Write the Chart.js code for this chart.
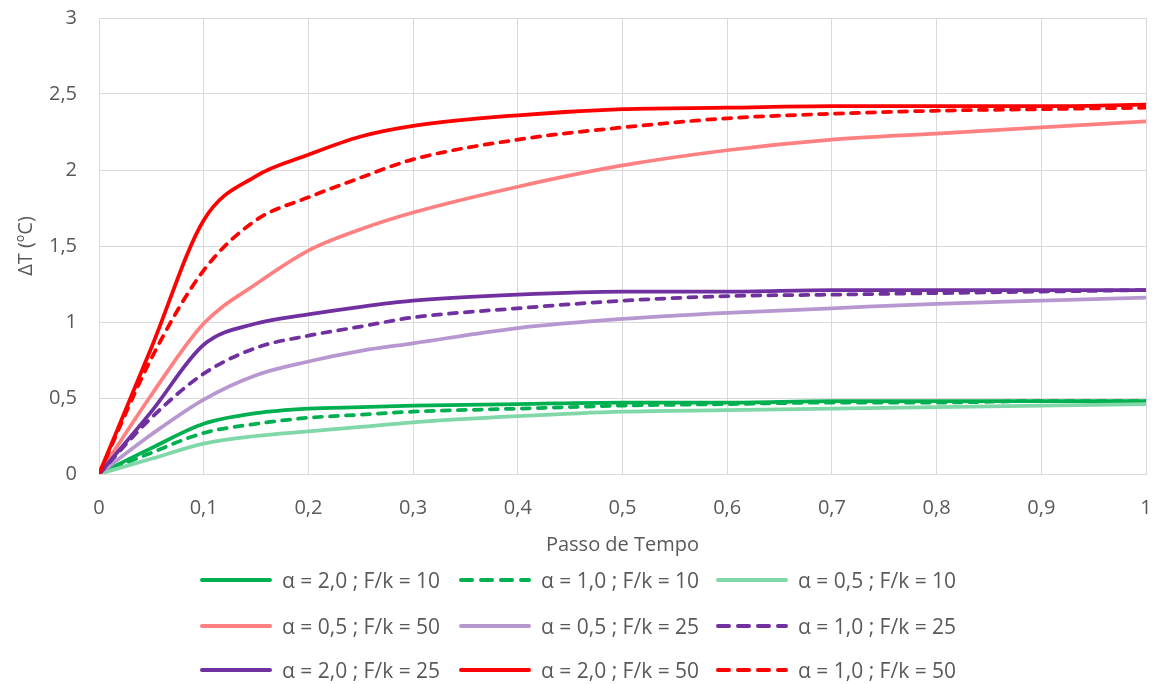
<!DOCTYPE html>
<html>
<head>
<meta charset="utf-8">
<script src="https://cdn.jsdelivr.net/npm/chart.js@4.4.1/dist/chart.umd.min.js"></script>
<style>
  body { margin: 0; background: #fff; }
  #wrap { position: relative; width: 1160px; height: 684px; }
  #legend { position: absolute; left: 0; top: 0; width: 1160px; height: 684px; pointer-events: none; }
  .item { position: absolute; display: flex; align-items: center; height: 28px;
          font: 21px "Open Sans", sans-serif; color: #595959; white-space: nowrap; }
  .item svg { margin-right: 10px; }
</style>
</head>
<body>
<div id="wrap">
  <canvas id="myChart" width="1160" height="684"></canvas>
  <div id="legend"></div>
</div>
<script>
// passo de tempo
const steps = [0, 0.05, 0.1, 0.15, 0.2, 0.25, 0.3, 0.4, 0.5, 0.6, 0.7, 0.8, 0.9, 1.0];

// ΔT for each case
const a20fk10 = [0, 0.17, 0.33, 0.40, 0.43, 0.44, 0.45, 0.46, 0.47, 0.47, 0.48, 0.48, 0.48, 0.48];
const a10fk10 = [0, 0.14, 0.27, 0.33, 0.37, 0.39, 0.41, 0.43, 0.45, 0.46, 0.47, 0.47, 0.48, 0.48];
const a05fk10 = [0, 0.10, 0.20, 0.25, 0.28, 0.31, 0.34, 0.38, 0.41, 0.42, 0.43, 0.44, 0.45, 0.46];
const a05fk50 = [0, 0.52, 0.99, 1.25, 1.47, 1.61, 1.72, 1.89, 2.03, 2.13, 2.20, 2.24, 2.28, 2.32];
const a05fk25 = [0, 0.26, 0.49, 0.65, 0.74, 0.81, 0.86, 0.96, 1.02, 1.06, 1.09, 1.12, 1.14, 1.16];
const a10fk25 = [0, 0.37, 0.66, 0.83, 0.91, 0.97, 1.03, 1.09, 1.14, 1.17, 1.18, 1.19, 1.20, 1.21];
const a20fk25 = [0, 0.41, 0.85, 0.99, 1.05, 1.10, 1.14, 1.18, 1.20, 1.20, 1.21, 1.21, 1.21, 1.21];
const a20fk50 = [0, 0.83, 1.67, 1.96, 2.10, 2.22, 2.29, 2.36, 2.40, 2.41, 2.42, 2.42, 2.42, 2.43];
const a10fk50 = [0, 0.76, 1.34, 1.67, 1.82, 1.95, 2.07, 2.20, 2.28, 2.34, 2.37, 2.39, 2.40, 2.41];

const seriesNames = [
    "α = 2,0 ; F/k = 10", "α = 1,0 ; F/k = 10", "α = 0,5 ; F/k = 10",
    "α = 0,5 ; F/k = 50", "α = 0,5 ; F/k = 25", "α = 1,0 ; F/k = 25",
    "α = 2,0 ; F/k = 25", "α = 2,0 ; F/k = 50", "α = 1,0 ; F/k = 50"
];
const seriesData = [a20fk10, a10fk10, a05fk10, a05fk50, a05fk25, a10fk25, a20fk25, a20fk50, a10fk50];
const seriesColors = ["#00B050", "#00B050", "#80D7A7", "#FF8080", "#B797CF", "#7030A0", "#7030A0", "#FF0000", "#FF0000"];
const seriesDashed = [false, true, false, false, false, true, false, false, true];

const yTicks = [0, 0.5, 1, 1.5, 2, 2.5, 3];

function comma(v) {
    return String(Math.round(v * 10) / 10).replace(".", ",");
}

// drop the automatic label overhang so the plot area sits where the padding says
function noPad(scale) {
    scale.paddingTop = 0;
    scale.paddingBottom = 0;
    scale.paddingLeft = 0;
    scale.paddingRight = 0;
}

const datasets = seriesNames.map((name, i) => ({
    label: name,
    data: steps.map((x, j) => ({ x: x, y: seriesData[i][j] })),
    borderColor: seriesColors[i],
    backgroundColor: seriesColors[i],
    borderWidth: 3.75,
    borderDash: seriesDashed[i] ? [8, 8] : [],
    borderCapStyle: "round",
    pointRadius: 0,
    cubicInterpolationMode: "monotone",
    order: seriesNames.length - i   // later series on top, like the original
}));

const font = "Open Sans";
const grey = "#595959";

new Chart(document.getElementById("myChart"), {
    type: "line",
    data: { datasets: datasets },
    options: {
        responsive: false,
        animation: false,
        layout: { padding: { top: 18, right: 14, bottom: 123, left: 0 } },
        plugins: { legend: { display: false }, tooltip: { enabled: false } },
        scales: {
            x: {
                type: "linear",
                min: 0,
                max: 1,
                ticks: { stepSize: 0.1, callback: comma, color: grey, padding: 22, maxRotation: 0,
                         font: { family: font, size: 20 } },
                grid: { color: "#D9D9D9", drawTicks: false },
                border: { color: "#D9D9D9" },
                title: { display: true, text: "Passo de Tempo", color: grey,
                         font: { family: font, size: 20 }, padding: { top: 0, bottom: 4 } },
                afterFit: (scale) => { scale.height = 87; noPad(scale); }
            },
            y: {
                min: 0,
                max: 3,
                afterBuildTicks: (scale) => { scale.ticks = yTicks.map(v => ({ value: v })); },
                ticks: { callback: comma, color: grey, padding: 22, font: { family: font, size: 20 } },
                grid: { color: "#D9D9D9", drawTicks: false },
                border: { color: "#D9D9D9" },
                title: { display: true, text: "ΔT (ºC)", color: grey,
                         font: { family: font, size: 20 }, padding: { top: 14, bottom: 0 } },
                afterFit: (scale) => { scale.width = 99; noPad(scale); }
            }
        }
    }
});

// legend in three columns, built from the same series
const legend = document.getElementById("legend");
const colX = [200, 459, 716];
const rowY = [580, 626, 670];
seriesNames.forEach((name, i) => {
    const div = document.createElement("div");
    div.className = "item";
    div.style.left = colX[i % 3] + "px";
    div.style.top = (rowY[Math.floor(i / 3)] - 14) + "px";
    const dash = seriesDashed[i] ? 'stroke-dasharray="11 9"' : "";
    div.innerHTML = '<svg width="72" height="8"><line x1="2" y1="4" x2="70" y2="4" stroke="' +
        seriesColors[i] + '" stroke-width="4" stroke-linecap="round" ' + dash + '/></svg>';
    const span = document.createElement("span");
    span.textContent = name;
    div.appendChild(span);
    legend.appendChild(div);
});
</script>
</body>
</html>
